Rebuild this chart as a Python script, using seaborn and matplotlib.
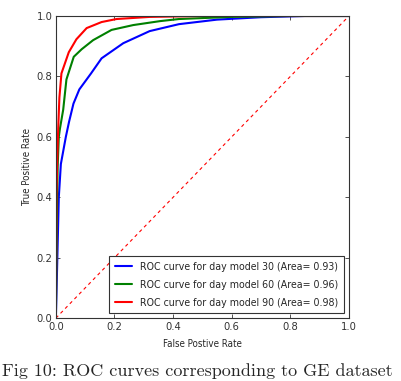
import pandas as pd
import matplotlib
matplotlib.use("Agg")
import matplotlib.pyplot as plt
import seaborn as sns

# Puntos (FPR, TPR) para cada modelo
fpr_30 = [0.0, 0.002, 0.010, 0.017, 0.034, 0.045, 0.060, 0.080, 0.120, 0.156, 0.230, 0.320, 0.420, 0.550, 0.700, 0.850, 1.0]
tpr_30 = [0.0, 0.080, 0.400, 0.510, 0.600, 0.650, 0.710, 0.757, 0.810, 0.860, 0.910, 0.950, 0.973, 0.988, 0.996, 1.000, 1.0]

fpr_60 = [0.0, 0.003, 0.006, 0.010, 0.014, 0.025, 0.036, 0.061, 0.088, 0.127, 0.190, 0.264, 0.355, 0.420, 0.600, 0.800, 1.0]
tpr_60 = [0.0, 0.300, 0.500, 0.600, 0.628, 0.690, 0.790, 0.865, 0.890, 0.920, 0.954, 0.970, 0.983, 0.990, 0.997, 1.000, 1.0]

fpr_90 = [0.0, 0.002, 0.004, 0.008, 0.012, 0.019, 0.044, 0.070, 0.105, 0.156, 0.207, 0.320, 0.500, 1.0]
tpr_90 = [0.0, 0.400, 0.500, 0.630, 0.730, 0.810, 0.880, 0.923, 0.960, 0.980, 0.990, 0.997, 1.000, 1.0]

etiquetas = [
    "ROC curve for day model 30 (Area= 0.93)",
    "ROC curve for day model 60 (Area= 0.96)",
    "ROC curve for day model 90 (Area= 0.98)",
]
colores = ["#0000ff", "#008000", "#ff0000"]

df = pd.concat([
    pd.DataFrame({"fpr": fpr_30, "tpr": tpr_30, "modelo": etiquetas[0]}),
    pd.DataFrame({"fpr": fpr_60, "tpr": tpr_60, "modelo": etiquetas[1]}),
    pd.DataFrame({"fpr": fpr_90, "tpr": tpr_90, "modelo": etiquetas[2]}),
], ignore_index=True)

sns.set_style("ticks")
plt.rcParams["font.family"] = ["DejaVu Sans"]
plt.rcParams["font.stretch"] = "condensed"
plt.rcParams["xtick.direction"] = "in"
plt.rcParams["ytick.direction"] = "in"

fig = plt.figure(figsize=(4.02, 3.81), dpi=100)
ax = fig.add_axes([0.139, 0.165, 0.729, 0.793])

sns.lineplot(data=df, x="fpr", y="tpr", hue="modelo", palette=colores,
             estimator=None, sort=False, linewidth=1.5, ax=ax)
ax.plot([0, 1], [0, 1], "r--", linewidth=0.8, dashes=(3, 3))

ax.set_xlim(0, 1)
ax.set_ylim(0, 1)
ax.set_xticks([0, 0.2, 0.4, 0.6, 0.8, 1.0])
ax.set_yticks([0, 0.2, 0.4, 0.6, 0.8, 1.0])
ax.tick_params(top=True, right=True, labelsize=8, length=3, width=0.6, colors="#333333", pad=2.5)
for s in ax.spines.values():
    s.set_visible(True)
    s.set_linewidth(0.8)
    s.set_color("#333333")
ax.set_xlabel("False Postive Rate", fontsize=7, labelpad=5)
ax.set_ylabel("True Positive Rate", fontsize=7, labelpad=3)

ley = ax.legend(loc="lower right", prop={"size": 7.6, "stretch": "condensed"}, fancybox=False,
                edgecolor="#333333", handlelength=1.6, borderaxespad=0.45, labelspacing=0.75,
                borderpad=0.55, framealpha=1)
ley.get_frame().set_linewidth(0.8)

fig.text(0.005, 0.012, "Fig 10: ROC curves corresponding to GE dataset",
         fontsize=13, family="cmr10", ha="left", va="baseline")

fig.savefig("out.png", dpi=100)
